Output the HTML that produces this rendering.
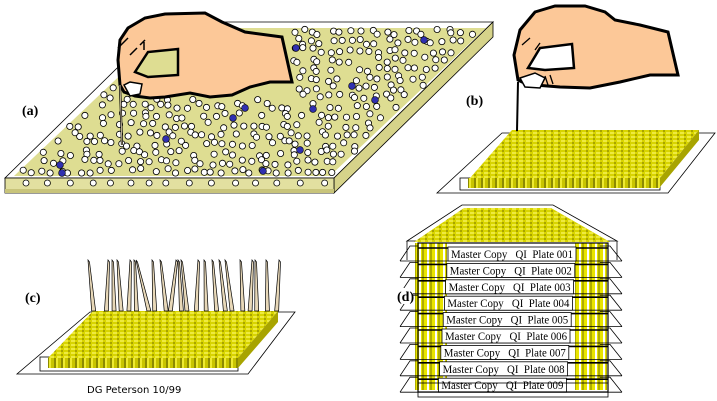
<!DOCTYPE html>
<html><head><meta charset="utf-8"><style>
html,body{margin:0;padding:0;background:#fff;width:717px;height:401px;overflow:hidden}
svg{display:block}
</style></head><body>
<svg id="s" width="717" height="401" viewBox="0 0 717 401" xmlns="http://www.w3.org/2000/svg">
<defs>
<pattern id="tipTop" width="7" height="4" patternUnits="userSpaceOnUse">
<rect width="7" height="4" fill="#d8d400"/><rect x="1" y="0" width="4" height="2" fill="#eeea40"/><rect x="5" y="2" width="2" height="2" fill="#a8a400"/>
</pattern>
<pattern id="tipFront" width="7" height="10" patternUnits="userSpaceOnUse">
<rect width="7" height="10" fill="#c8c400"/><rect x="0" width="2" height="10" fill="#eeea30"/><rect x="5" width="2" height="10" fill="#8c8a00"/>
</pattern>
<pattern id="colSide" width="8" height="4" patternUnits="userSpaceOnUse">
<rect width="8" height="4" fill="#e8e400"/><rect x="3" width="2" height="4" fill="#fff"/><rect x="6" width="2" height="4" fill="#b0ae00"/>
</pattern>
</defs>
<g id="a">
<polygon points="5,178 334,178 493,22 164,22" fill="#fff" stroke="#000" stroke-width="0.8"/>
<polygon points="14,176 330,176 486,28 170,28" fill="#dedd92"/>
<polygon points="334,178 493,22 493,37 334,193" fill="#d6d38a" stroke="#000" stroke-width="0.8"/>
<rect x="5" y="178" width="329" height="15" fill="#e2e0a0" stroke="#000" stroke-width="0.8"/>
<rect x="5" y="189" width="329" height="4" fill="#c8c47a"/>
<g id="dots"></g>
</g>
<!-- hand a -->
<path d="M120,85 L118,60 L120,40 L128,28 L145,18 L165,14 L205,13 L222,22 L245,32 L282,37 L292,82 L270,82 L250,87 L232,95 L210,97 L190,93 L165,97 L150,98 L135,96 L124,92 Z" fill="#fcc898" stroke="#000" stroke-width="3"/>
<path d="M135,72 L148,52 L178,49 L178,75 L148,77 Z" fill="#dedd92" stroke="#000" stroke-width="2.5"/>
<path d="M124,85 L130,82 L142,84 L140,94 L130,96 Z" fill="#fff" stroke="#000" stroke-width="1.5"/>
<path d="M118,48 L128,38 M130,55 L137,48 M140,45 L145,40 M144,42 L144,50" stroke="#000" stroke-width="1.5"/>
<line x1="120" y1="85" x2="122" y2="145" stroke="#000" stroke-width="2.2"/>
<line x1="120" y1="85" x2="122" y2="145" stroke="#e8d8b8" stroke-width="0.8"/>
<text x="22" y="115" font-family="Liberation Serif,serif" font-weight="bold" font-size="14">(a)</text>

<!-- b -->
<polygon points="437,193 668,193 715,133 502,133" fill="#fff" stroke="#000" stroke-width="0.8"/>
<rect x="460" y="178" width="200" height="12" fill="none" stroke="#000" stroke-width="0.8"/>
<polygon points="470,178 512,130 699,130 660,178" fill="url(#tipTop)"/>
<polygon points="660,178 699,130 699,140 660,187" fill="#a8a400"/>
<rect x="468" y="178" width="192" height="10" fill="url(#tipFront)"/>
<path d="M518,80 L514,55 L520,30 L535,12 L555,6 L585,6 L605,12 L615,20 L640,25 L668,32 L678,75 L650,75 L620,82 L590,88 L560,87 L535,85 L522,82 Z" fill="#fcc898" stroke="#000" stroke-width="3"/>
<path d="M528,68 L540,48 L572,44 L574,68 L545,70 Z" fill="#fff" stroke="#000" stroke-width="2.5"/>
<path d="M520,78 L535,73 L545,78 L540,88 L525,87 Z" fill="#fff" stroke="#000" stroke-width="1.5"/>
<path d="M522,45 L530,38 M535,50 L540,43 M545,76 L548,85 M550,75 L553,84" stroke="#000" stroke-width="1.3"/>
<line x1="518" y1="82" x2="517" y2="131" stroke="#000" stroke-width="2"/>
<text x="466" y="105" font-family="Liberation Serif,serif" font-weight="bold" font-size="14">(b)</text>

<!-- c -->
<polygon points="17,374 248,374 295,312 90,312" fill="#fff" stroke="#000" stroke-width="0.8"/>
<rect x="40" y="357" width="198" height="14" fill="none" stroke="#000" stroke-width="0.8"/>
<polygon points="48,358 93,311 278,311 238,358" fill="url(#tipTop)"/>
<polygon points="238,358 278,311 278,322 238,368" fill="#a8a400"/>
<rect x="48" y="358" width="190" height="10" fill="url(#tipFront)"/>
<g id="needles"></g>
<text x="25" y="302" font-family="Liberation Serif,serif" font-weight="bold" font-size="14">(c)</text>
<text x="87" y="393" font-family="DejaVu Sans,sans-serif" font-size="10">DG Peterson 10/99</text>

<!-- d -->
<g id="d"></g>
<rect x="396" y="288" width="17" height="16" fill="#fff"/>
<text x="397" y="301" font-family="Liberation Serif,serif" font-weight="bold" font-size="14">(d)</text>
</svg>
<script>
var seed=7;function r(){seed=(seed*16807)%2147483647;return seed/2147483647;}
var NS="http://www.w3.org/2000/svg";
function el(p,t,a){var e=document.createElementNS(NS,t);for(var k in a)e.setAttribute(k,a[k]);p.appendChild(e);return e;}
var g=document.getElementById("dots");
for(var row=0;row<16;row++){for(var col=0;col<34;col++){
 var y=32+row*9.3+(r()-.5)*6;if(y>173)y=173;
 var xl=170-(y-28)*(156/148);var x=xl+6+col*9.4+(r()-.5)*6;
 if(x>xl+316)continue;
 if(r()<0.15)continue;
 if(x>118&&x<292&&y<99&&y>10)continue;
 el(g,"circle",{cx:x.toFixed(1),cy:y.toFixed(1),r:3.1,fill:"#fff",stroke:"#000","stroke-width":0.8});}}
[[60,165],[62,173],[166,139],[245,108],[233,118],[300,150],[263,171],[352,86],[313,109],[296,48],[424,40],[375,100]].forEach(function(p){el(g,"circle",{cx:p[0],cy:p[1],r:3.4,fill:"#3030b0",stroke:"#000","stroke-width":0.6});});
for(var x=26;x<330;x+=15+r()*10){el(g,"circle",{cx:x,cy:183,r:3,fill:"#fff",stroke:"#000","stroke-width":0.8});}
var n=document.getElementById("needles");
var tops=[88,108,112,117,130,134,136,152,160,176,178,181,198,204,212,219,225,240,252,255,266,279];
tops.forEach(function(t,k){var b=96+k*8.5+(r()-.5)*6;
 el(n,"polygon",{points:(t)+",260 "+(t+1.5)+",262 "+(b+2)+",311 "+(b-2)+",311",fill:"#e8d8b8",stroke:"#000","stroke-width":0.7});});
var d=document.getElementById("d");
el(d,"polygon",{points:"462,205 553,205 617,241 407,241",fill:"#fff",stroke:"#000","stroke-width":0.8});
el(d,"polygon",{points:"464,208 551,208 610,242 414,242",fill:"url(#tipTop)"});
el(d,"rect",{x:415,y:243,width:32,height:147,fill:"url(#colSide)"});
el(d,"rect",{x:575,y:243,width:32,height:147,fill:"url(#colSide)"});
var S="\u00a0";
for(var i=0;i<9;i++){var y=246+i*16.4;
 el(d,"polyline",{points:"400,"+(y+15)+" 410,"+(y)+" 418,"+y,fill:"none",stroke:"#000","stroke-width":0.8});
 el(d,"polyline",{points:"622,"+(y+15)+" 610,"+y+" 600,"+y,fill:"none",stroke:"#000","stroke-width":0.8});
 el(d,"line",{x1:400,y1:y+15,x2:622,y2:y+15,stroke:"#000","stroke-width":0.8});
 el(d,"line",{x1:418,y1:y+2,x2:608,y2:y+2,stroke:"#000","stroke-width":1.6});
 el(d,"rect",{x:448-i*1.2,y:y+1,width:128,height:14,fill:"#fff",stroke:"#000","stroke-width":0.8});
 var t=el(d,"text",{x:451-i*1.2,y:y+12,"font-family":"Liberation Serif,serif","font-size":"11.5",textLength:"122",lengthAdjust:"spacingAndGlyphs"});
 t.textContent="Master Copy"+S+S+S+"QI"+S+S+"Plate 00"+(i+1);}
el(d,"rect",{x:418,y:243,width:190,height:149,fill:"none",stroke:"#000","stroke-width":1.2});
el(d,"polyline",{points:"407,241 407,260",fill:"none",stroke:"#000","stroke-width":0.8});
el(d,"polyline",{points:"617,241 617,260",fill:"none",stroke:"#000","stroke-width":0.8});
el(d,"rect",{x:418,y:383,width:190,height:14,fill:"none",stroke:"#000","stroke-width":0.8});
</script>
</body></html>
